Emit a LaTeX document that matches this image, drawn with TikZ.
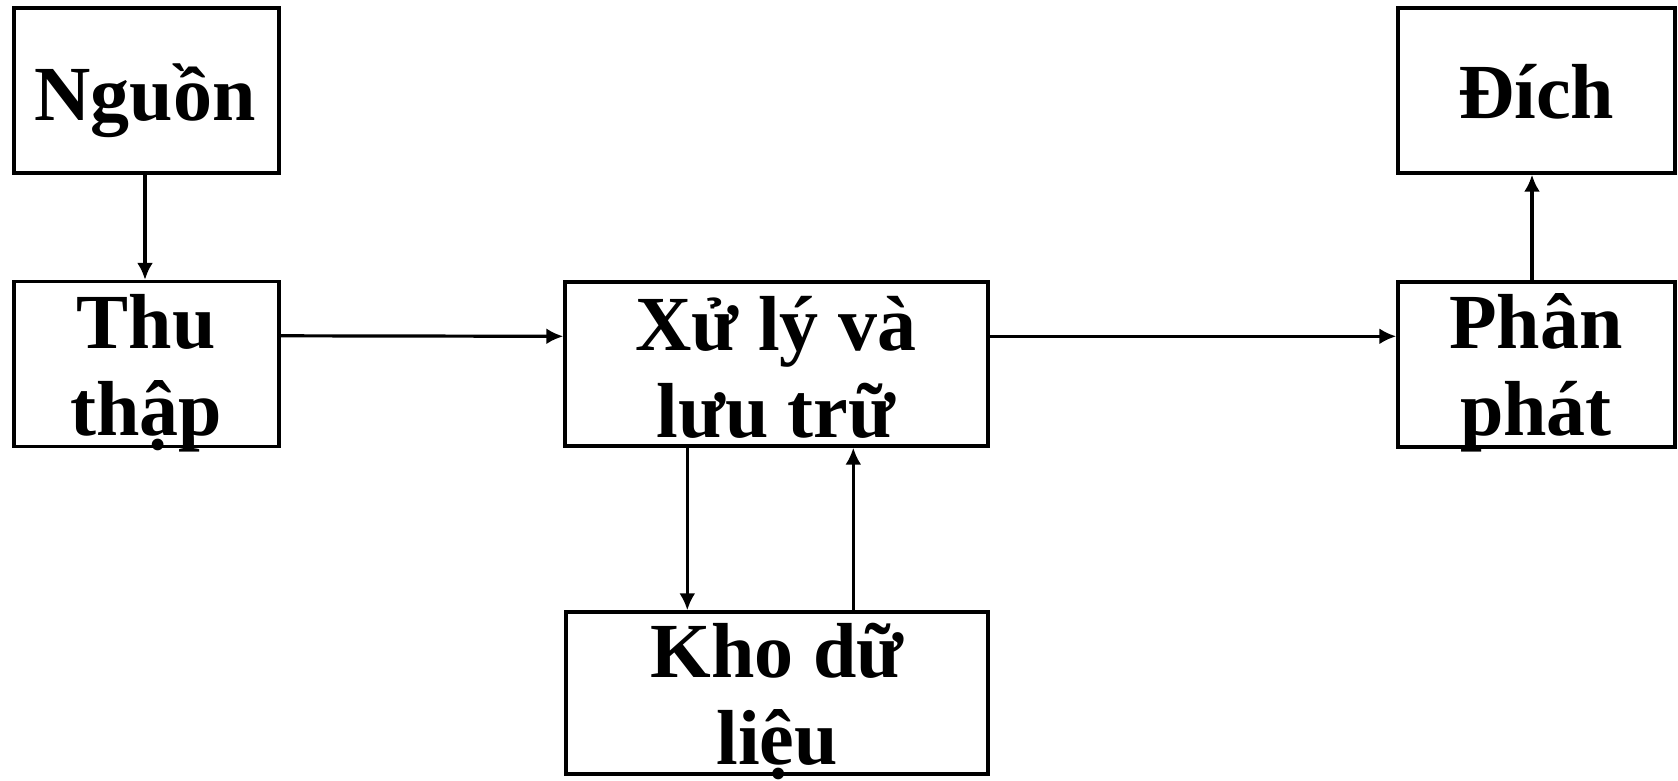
\documentclass[tikz,border=0pt]{standalone}
\usepackage{fontspec}
\setmainfont{Liberation Serif}
\usetikzlibrary{arrows.meta}
\begin{document}
\begin{tikzpicture}[x=1pt,y=-1pt,
  stage/.style={draw,line width=3.4pt,rectangle,inner sep=0pt},
  label text/.style={font=\fontsize{78}{87}\selectfont\bfseries,align=center,anchor=base,inner sep=0pt},
  flow/.style={line width=3.2pt,-{Latex[length=17pt,width=16pt]}}]
\useasboundingbox (0,0) rectangle (1678,780);

% boxes
\node[stage,minimum width=265pt,minimum height=165pt] (src) at (146.5,90.5) {};
\node[stage,minimum width=265pt,minimum height=165pt] (col) at (146.5,364) {};
\node[stage,minimum width=423pt,minimum height=164pt] (proc) at (776.5,364) {};
\node[stage,minimum width=422pt,minimum height=162pt] (store) at (777,693) {};
\node[stage,minimum width=277pt,minimum height=165pt] (dist) at (1536.5,364.5) {};
\node[stage,minimum width=277pt,minimum height=165pt] (dst) at (1536.5,90.5) {};

% texts (the base anchor of a two-line node sits on its last line)
\node[label text] (srcT) at (145,120) {Nguồn};
\node[label text] (colT) at (146,435) {Thu\\thập};
\node[label text] (procT) at (776,437) {Xử lý và\\lưu trữ};
\node[label text] (storeT) at (777,764) {Kho dữ\\liệu};
\node[label text] (distT) at (1536,435) {Phân\\phát};
\node[label text] (dstT) at (1536,118) {Đích};

% connectors
\draw[flow] ([xshift=-1.5pt]src.south) -- ([xshift=-1.5pt]col.north);
\draw[flow] ([yshift=-56pt]col.north east) -- ([yshift=-56pt]proc.north west);
\draw[flow] ([yshift=-56pt]proc.north east) -- ([yshift=-56pt]dist.north west);
\draw[flow] ([xshift=-4.5pt]dist.north) -- ([xshift=-4.5pt]dst.south);
\draw[flow] ([xshift=124pt]proc.south west) -- ([xshift=123pt]store.north west);
\draw[flow] ([xshift=289pt]store.north west) -- ([xshift=290pt]proc.south west);
\end{tikzpicture}
\end{document}
